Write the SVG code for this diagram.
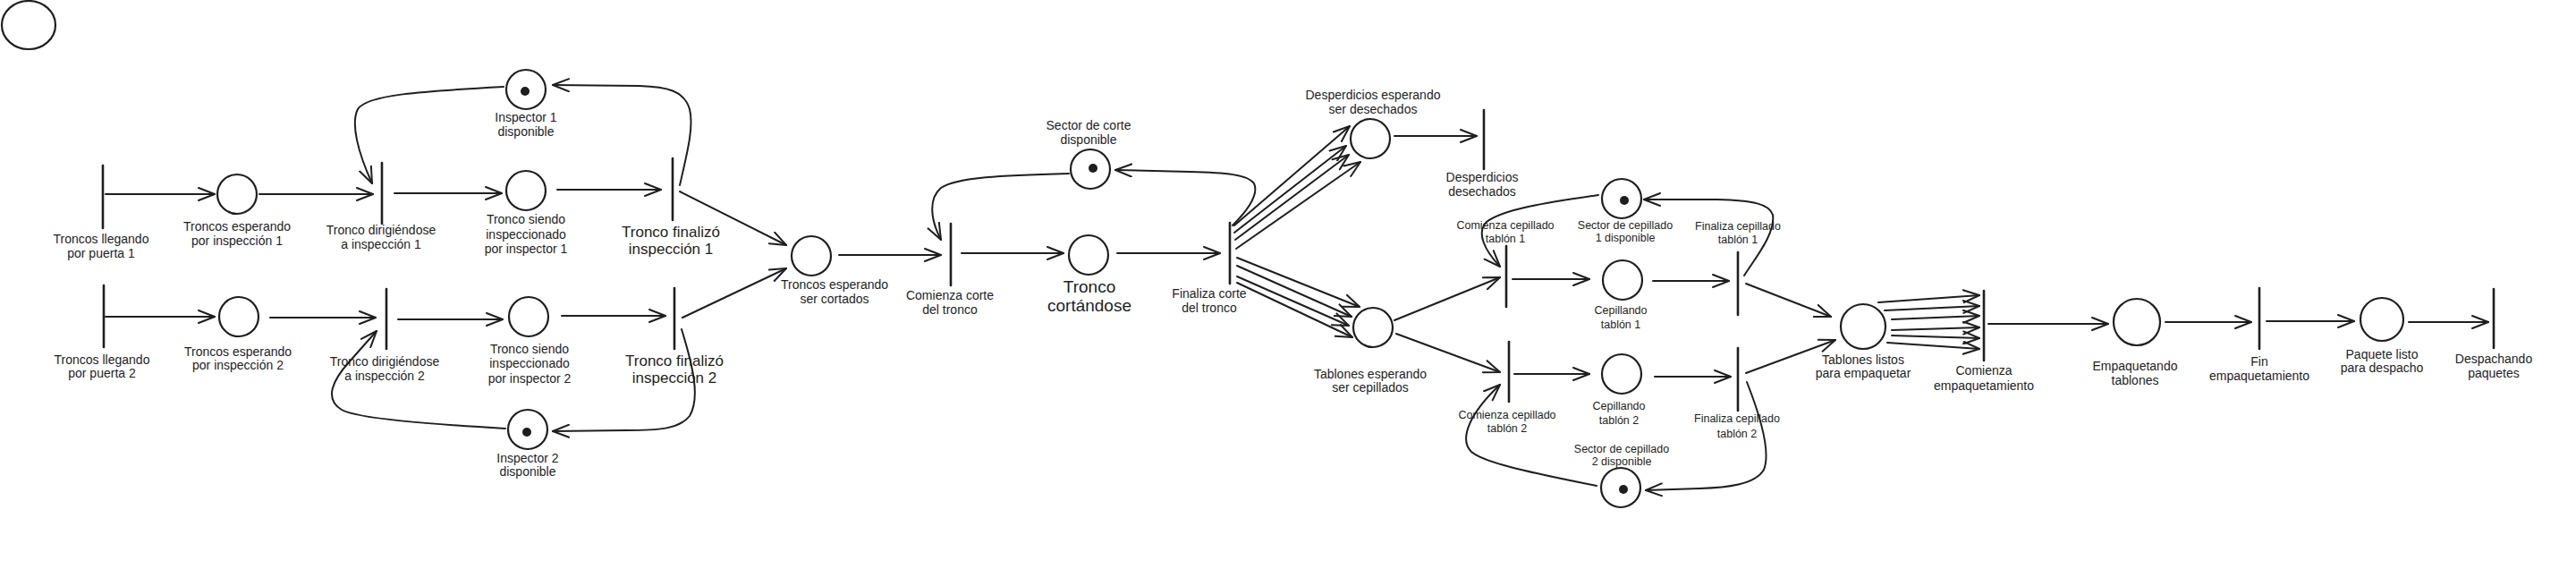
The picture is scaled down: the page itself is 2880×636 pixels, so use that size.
<svg xmlns="http://www.w3.org/2000/svg" width="2880" height="636" viewBox="0 0 2880 636">
<defs>
<style>
.place{fill:none;stroke:#1e1e1e;stroke-width:2.2}
.token{fill:#1e1e1e;stroke:none}
.trans{stroke:#1e1e1e;stroke-width:2.6;stroke-linecap:round}
.edge{fill:none;stroke:#1e1e1e;stroke-width:2;stroke-linecap:round;marker-end:url(#ah)}
.lbl{font-family:"Liberation Sans",Arial,sans-serif;font-size:14px;fill:#1e1e1e;text-anchor:middle}
.sm{font-size:12.5px}
.big{font-size:17px}
.huge{font-size:19px}
</style>
<marker id="ah" viewBox="0 0 20 16" refX="19" refY="8" markerWidth="20" markerHeight="16" markerUnits="userSpaceOnUse" orient="auto">
<path d="M1,1 L19,8 L1,15" fill="none" stroke="#1e1e1e" stroke-width="2" stroke-linecap="round" stroke-linejoin="round"/>
</marker>
</defs>
<rect width="2880" height="636" fill="#ffffff"/>

<g id="connectors">
<path class="edge" d="M118,217 L240,217"/>
<path class="edge" d="M290,217 L417,217"/>
<path class="edge" d="M441,216 L561,216"/>
<path class="edge" d="M623,212 L739,212"/>
<path class="edge" d="M760,207 C768,172 776,142 771,122 C765,101 745,97 715,96 L618,95"/>
<path class="edge" d="M563,97 C470,102 410,106 400,122 C392,138 400,170 416,205"/>
<path class="edge" d="M118,354 L240,354"/>
<path class="edge" d="M302,355 L420,355"/>
<path class="edge" d="M445,357 L562,357"/>
<path class="edge" d="M628,353 L744,353"/>
<path class="edge" d="M762,368 C775,410 783,445 771,465 C759,480 735,481 700,481 L618,482"/>
<path class="edge" d="M565,479 C480,474 400,468 382,458 C362,446 372,425 390,405 L421,370"/>
<path class="edge" d="M760,214 L879,274"/>
<path class="edge" d="M763,355 L879,300"/>
<path class="edge" d="M938,285 L1052,285"/>
<path class="edge" d="M1075,283 L1189,283"/>
<path class="edge" d="M1249,283 L1364,283"/>
<path class="edge" d="M1378,252 C1392,238 1408,218 1402,205 C1395,195 1370,193 1330,192 L1247,190"/>
<path class="edge" d="M1195,194 C1120,196 1070,198 1052,210 C1038,222 1040,245 1052,268"/>
<path class="edge" d="M1380,252 L1509,141"/>
<path class="edge" d="M1380,260 L1505,163"/>
<path class="edge" d="M1381,268 L1508,173"/>
<path class="edge" d="M1382,278 L1521,181"/>
<path class="edge" d="M1383,288 L1520,343"/>
<path class="edge" d="M1383,297 L1511,354"/>
<path class="edge" d="M1383,309 L1508,364"/>
<path class="edge" d="M1383,316 L1512,377"/>
<path class="edge" d="M1559,152 L1651,152"/>
<path class="edge" d="M1559,358 L1677,310"/>
<path class="edge" d="M1561,373 L1677,416"/>
<path class="edge" d="M1691,312 L1777,312"/>
<path class="edge" d="M1848,314 L1933,314"/>
<path class="edge" d="M1950,308 C1965,285 1985,260 1982,240 C1978,228 1960,224 1920,223 L1838,223"/>
<path class="edge" d="M1787,218 C1730,226 1680,234 1662,248 C1650,260 1660,280 1677,298"/>
<path class="edge" d="M1952,317 L2047,354"/>
<path class="edge" d="M1693,418 L1777,418"/>
<path class="edge" d="M1850,421 L1935,421"/>
<path class="edge" d="M1952,417 L2052,380"/>
<path class="edge" d="M1953,427 C1968,465 1980,505 1972,525 C1962,542 1930,545 1900,546 L1840,548"/>
<path class="edge" d="M1785,543 C1720,530 1660,518 1645,505 C1630,490 1645,460 1677,430"/>
<path class="edge" d="M2100,338 L2213,330"/>
<path class="edge" d="M2107,347 L2213,342"/>
<path class="edge" d="M2115,357 L2213,353"/>
<path class="edge" d="M2115,369 L2213,366"/>
<path class="edge" d="M2115,375 L2213,378"/>
<path class="edge" d="M2110,383 L2213,390"/>
<path class="edge" d="M2223,362 L2357,362"/>
<path class="edge" d="M2421,360 L2517,360"/>
<path class="edge" d="M2534,359 L2632,359"/>
<path class="edge" d="M2693,360 L2782,360"/>
</g>

<g id="p_blank"><ellipse class="place" cx="32" cy="28" rx="30" ry="27"/></g>

<g id="t_llegando1"><line class="trans" x1="115" y1="185" x2="115" y2="255"/>
<text class="lbl" x="113" y="272">Troncos llegando</text><text class="lbl" x="113" y="288">por puerta 1</text></g>
<g id="p_esperando1"><circle class="place" cx="265" cy="217" r="22"/>
<text class="lbl" x="265" y="258">Troncos esperando</text><text class="lbl" x="265" y="274">por inspección 1</text></g>
<g id="t_dirigiendo1"><line class="trans" x1="427" y1="182" x2="427" y2="250"/>
<text class="lbl" x="426" y="262">Tronco dirigiéndose</text><text class="lbl" x="426" y="278">a inspección 1</text></g>
<g id="p_inspector1"><circle class="place" cx="588" cy="100" r="22"/><circle class="token" cx="587" cy="102" r="5"/>
<text class="lbl" x="588" y="136">Inspector 1</text><text class="lbl" x="588" y="152">disponible</text></g>
<g id="p_inspeccion1"><circle class="place" cx="588" cy="213" r="22"/>
<text class="lbl" x="588" y="250">Tronco siendo</text><text class="lbl" x="588" y="267">inspeccionado</text><text class="lbl" x="588" y="283">por inspector 1</text></g>
<g id="t_finalizo1"><line class="trans" x1="752" y1="177" x2="752" y2="246"/>
<text class="lbl big" x="750" y="265">Tronco finalizó</text><text class="lbl big" x="750" y="284">inspección 1</text></g>

<g id="t_llegando2"><line class="trans" x1="116" y1="319" x2="116" y2="388"/>
<text class="lbl" x="114" y="407">Troncos llegando</text><text class="lbl" x="114" y="422">por puerta 2</text></g>
<g id="p_esperando2"><circle class="place" cx="267" cy="354" r="22"/>
<text class="lbl" x="266" y="398">Troncos esperando</text><text class="lbl" x="266" y="413">por inspección 2</text></g>
<g id="t_dirigiendo2"><line class="trans" x1="432" y1="323" x2="432" y2="390"/>
<text class="lbl" x="430" y="409">Tronco dirigiéndose</text><text class="lbl" x="430" y="425">a inspección 2</text></g>
<g id="p_inspeccion2"><circle class="place" cx="591" cy="354" r="22"/>
<text class="lbl" x="592" y="395">Tronco siendo</text><text class="lbl" x="592" y="411">inspeccionado</text><text class="lbl" x="592" y="428">por inspector 2</text></g>
<g id="t_finalizo2"><line class="trans" x1="754" y1="322" x2="754" y2="390"/>
<text class="lbl big" x="754" y="409">Tronco finalizó</text><text class="lbl big" x="754" y="428">inspección 2</text></g>
<g id="p_inspector2"><circle class="place" cx="590" cy="480" r="22"/><circle class="token" cx="589" cy="483" r="5"/>
<text class="lbl" x="590" y="517">Inspector 2</text><text class="lbl" x="590" y="532">disponible</text></g>

<g id="p_esperando_corte"><circle class="place" cx="907" cy="286" r="22"/>
<text class="lbl" x="933" y="323">Troncos esperando</text><text class="lbl" x="933" y="339">ser cortados</text></g>
<g id="t_comienza_corte"><line class="trans" x1="1063" y1="250" x2="1063" y2="319"/>
<text class="lbl" x="1062" y="335">Comienza corte</text><text class="lbl" x="1062" y="351">del tronco</text></g>
<g id="p_cortandose"><circle class="place" cx="1217" cy="285" r="22"/>
<text class="lbl huge" x="1218" y="327">Tronco</text><text class="lbl huge" x="1218" y="348">cortándose</text></g>
<g id="p_sector_corte"><circle class="place" cx="1219" cy="189" r="22"/><circle class="token" cx="1222" cy="188" r="5"/>
<text class="lbl" x="1217" y="145">Sector de corte</text><text class="lbl" x="1217" y="161">disponible</text></g>
<g id="t_finaliza_corte"><line class="trans" x1="1375" y1="249" x2="1375" y2="317"/>
<text class="lbl" x="1352" y="333">Finaliza corte</text><text class="lbl" x="1352" y="349">del tronco</text></g>

<g id="p_desperdicios"><circle class="place" cx="1532" cy="155" r="22"/>
<text class="lbl" x="1535" y="111">Desperdicios esperando</text><text class="lbl" x="1535" y="127">ser desechados</text></g>
<g id="t_desechados"><line class="trans" x1="1659" y1="123" x2="1659" y2="189"/>
<text class="lbl" x="1657" y="203">Desperdicios</text><text class="lbl" x="1657" y="219">desechados</text></g>
<g id="p_tablones_esperando"><circle class="place" cx="1535" cy="366" r="22"/>
<text class="lbl" x="1532" y="423">Tablones esperando</text><text class="lbl" x="1532" y="438">ser cepillados</text></g>

<g id="t_comienza_cep1"><line class="trans" x1="1684" y1="275" x2="1684" y2="343"/>
<text class="lbl sm" x="1683" y="256">Comienza cepillado</text><text class="lbl sm" x="1683" y="271">tablón 1</text></g>
<g id="p_sector_cep1"><circle class="place" cx="1813" cy="222" r="22"/><circle class="token" cx="1816" cy="224" r="5"/>
<text class="lbl sm" x="1817" y="256">Sector de cepillado</text><text class="lbl sm" x="1817" y="270">1 disponible</text></g>
<g id="p_cepillando1"><circle class="place" cx="1814" cy="313" r="22"/>
<text class="lbl sm" x="1812" y="351">Cepillando</text><text class="lbl sm" x="1812" y="367">tablón 1</text></g>
<g id="t_finaliza_cep1"><line class="trans" x1="1943" y1="282" x2="1943" y2="352"/>
<text class="lbl sm" x="1943" y="257">Finaliza cepillado</text><text class="lbl sm" x="1943" y="272">tablón 1</text></g>

<g id="t_comienza_cep2"><line class="trans" x1="1687" y1="382" x2="1687" y2="449"/>
<text class="lbl sm" x="1685" y="468">Comienza cepillado</text><text class="lbl sm" x="1685" y="483">tablón 2</text></g>
<g id="p_cepillando2"><circle class="place" cx="1813" cy="418" r="22"/>
<text class="lbl sm" x="1810" y="458">Cepillando</text><text class="lbl sm" x="1810" y="474">tablón 2</text></g>
<g id="t_finaliza_cep2"><line class="trans" x1="1943" y1="389" x2="1943" y2="459"/>
<text class="lbl sm" x="1942" y="472">Finaliza cepillado</text><text class="lbl sm" x="1942" y="489">tablón 2</text></g>
<g id="p_sector_cep2"><circle class="place" cx="1812" cy="545" r="22"/><circle class="token" cx="1815" cy="547" r="5"/>
<text class="lbl sm" x="1813" y="506">Sector de cepillado</text><text class="lbl sm" x="1813" y="520">2 disponible</text></g>

<g id="p_tablones_listos"><circle class="place" cx="2083" cy="365" r="25"/>
<text class="lbl" x="2083" y="407">Tablones listos</text><text class="lbl" x="2083" y="422">para empaquetar</text></g>
<g id="t_comienza_emp"><line class="trans" x1="2218" y1="325" x2="2218" y2="403"/>
<text class="lbl" x="2218" y="419">Comienza</text><text class="lbl" x="2218" y="436">empaquetamiento</text></g>
<g id="p_empaquetando"><circle class="place" cx="2389" cy="360" r="26"/>
<text class="lbl" x="2387" y="414">Empaquetando</text><text class="lbl" x="2387" y="430">tablones</text></g>
<g id="t_fin_emp"><line class="trans" x1="2526" y1="322" x2="2526" y2="390"/>
<text class="lbl" x="2526" y="409">Fin</text><text class="lbl" x="2526" y="425">empaquetamiento</text></g>
<g id="p_paquete_listo"><circle class="place" cx="2663" cy="357" r="24"/>
<text class="lbl" x="2663" y="401">Paquete listo</text><text class="lbl" x="2663" y="416">para despacho</text></g>
<g id="t_despachando"><line class="trans" x1="2788" y1="323" x2="2788" y2="389"/>
<text class="lbl" x="2788" y="406">Despachando</text><text class="lbl" x="2788" y="422">paquetes</text></g>
</svg>
